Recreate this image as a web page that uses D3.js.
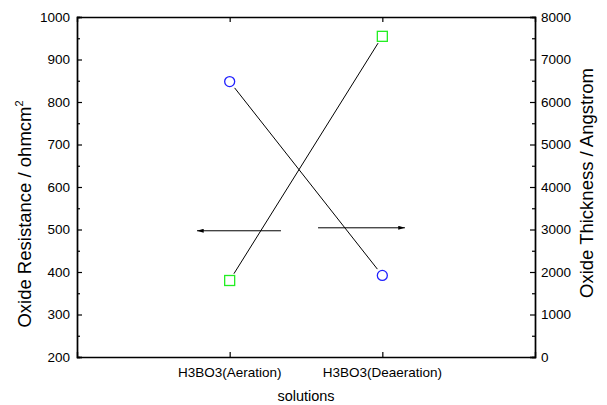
<!DOCTYPE html>
<html><head><meta charset="utf-8">
<script src="https://cdn.jsdelivr.net/npm/d3@7"></script>
<style>body{margin:0;background:#fff}svg{display:block}text{font-family:Arial,"Liberation Sans",sans-serif;fill:#000}</style>
</head><body><svg id="c" width="607" height="405"></svg>
<script>
const categories = ["H3BO3(Aeration)", "H3BO3(Deaeration)"];
const resistance = [848, 392];      // left axis, blue circles
const thickness = [1800, 7545];     // right axis, green squares
const leftTicks = [200,300,400,500,600,700,800,900,1000];
const rightTicks = [0,1000,2000,3000,4000,5000,6000,7000,8000];
// annotation arrows: [xStart, xEnd] in category-index units, y in axis units
const arrowLeft = {x0:1.336, x1:0.786, y:497};   // points to left axis
const arrowRight = {x0:1.579, x1:2.148, y:3040}; // points to right axis

const svg = d3.select("#c");
const L=77, R=535, T=17, B=357;
const x = d3.scaleLinear().domain([0,3]).range([L,R]);
const yL = d3.scaleLinear().domain([200,1000]).range([B,T]);
const yR = d3.scaleLinear().domain([0,8000]).range([B,T]);

svg.append("defs").append("marker").attr("id","ah").attr("viewBox","0 0 10 6")
  .attr("refX",10).attr("refY",3).attr("markerWidth",8).attr("markerHeight",4).attr("orient","auto")
  .attr("markerUnits","userSpaceOnUse")
  .append("path").attr("d","M0,0L10,3L0,6Z").attr("fill","#000");

const fs = "13.5px";
// left axis
const gl = svg.append("g").attr("transform",`translate(${L},0)`)
  .call(d3.axisRight(yL).tickValues(leftTicks).tickSize(5).tickFormat(""));
gl.append("g").call(d3.axisRight(yL).tickValues(d3.range(250,1000,100)).tickSize(3).tickFormat(""));
svg.append("g").selectAll("text").data(leftTicks).join("text")
  .attr("x",L-7).attr("y",d=>yL(d)).attr("dy","0.35em").attr("text-anchor","end")
  .style("font-size",fs).text(d=>d);
// right axis
const gr = svg.append("g").attr("transform",`translate(${R},0)`)
  .call(d3.axisLeft(yR).tickValues(rightTicks).tickSize(5).tickFormat(""));
gr.append("g").call(d3.axisLeft(yR).tickValues(d3.range(500,8000,1000)).tickSize(3).tickFormat(""));
svg.append("g").selectAll("text").data(rightTicks).join("text")
  .attr("x",R+6).attr("y",d=>yR(d)).attr("dy","0.35em").attr("text-anchor","start")
  .style("font-size",fs).text(d=>d);
// bottom / top axes
svg.append("g").attr("transform",`translate(0,${B})`)
  .call(d3.axisTop(x).tickValues([1,2]).tickSize(5).tickFormat(""));
svg.append("g").attr("transform",`translate(0,${T})`)
  .call(d3.axisBottom(x).tickValues([1,2]).tickSize(5).tickFormat(""));
svg.append("g").selectAll("text").data(categories).join("text")
  .attr("x",(d,i)=>x(i+1)).attr("y",B+20).attr("text-anchor","middle")
  .style("font-size",fs).text(d=>d);
svg.selectAll(".domain").attr("stroke","#000").attr("stroke-width",1.4);
svg.selectAll(".tick line").attr("stroke","#000").attr("stroke-width",1.2);

// titles
svg.append("text").attr("x",306).attr("y",401).attr("text-anchor","middle").style("font-size","14.5px").text("solutions");
const lt = svg.append("text").attr("transform",`translate(31,214) rotate(-90)`).attr("text-anchor","middle").style("font-size","18.5px");
lt.append("tspan").text("Oxide Resistance / ohmcm");
lt.append("tspan").attr("dy","-8").style("font-size","11px").text("2");
svg.append("text").attr("transform",`translate(593,183) rotate(-90)`).attr("text-anchor","middle").style("font-size","18.5px").text("Oxide Thickness / Angstrom");

// connecting lines with gaps near markers
function seg(p, q, gap){
  const dx=q[0]-p[0], dy=q[1]-p[1], len=Math.hypot(dx,dy);
  const ux=dx/len, uy=dy/len;
  return [[p[0]+ux*gap,p[1]+uy*gap],[q[0]-ux*gap,q[1]-uy*gap]];
}
const cPts = resistance.map((v,i)=>[x(i+1), yL(v)]);
const sPts = thickness.map((v,i)=>[x(i+1), yR(v)]);
const line = d3.line();
svg.append("path").attr("d",line(seg(cPts[0],cPts[1],8))).attr("stroke","#000").attr("fill","none").attr("stroke-width",1);
svg.append("path").attr("d",line(seg(sPts[0],sPts[1],8))).attr("stroke","#000").attr("fill","none").attr("stroke-width",1);

svg.append("g").selectAll("circle").data(cPts).join("circle")
  .attr("cx",d=>d[0]).attr("cy",d=>d[1]).attr("r",5).attr("fill","none").attr("stroke","#2020ff").attr("stroke-width",1.3);
svg.append("g").selectAll("rect").data(sPts).join("rect")
  .attr("x",d=>d[0]-5).attr("y",d=>d[1]-5).attr("width",10).attr("height",10).attr("fill","none").attr("stroke","#22ee22").attr("stroke-width",1.3);

// arrows
svg.append("line").attr("x1",x(arrowLeft.x0)).attr("x2",x(arrowLeft.x1)).attr("y1",yL(arrowLeft.y)).attr("y2",yL(arrowLeft.y))
  .attr("stroke","#000").attr("stroke-width",1).attr("marker-end","url(#ah)");
svg.append("line").attr("x1",x(arrowRight.x0)).attr("x2",x(arrowRight.x1)).attr("y1",yR(arrowRight.y)).attr("y2",yR(arrowRight.y))
  .attr("stroke","#000").attr("stroke-width",1).attr("marker-end","url(#ah)");
</script></body></html>
